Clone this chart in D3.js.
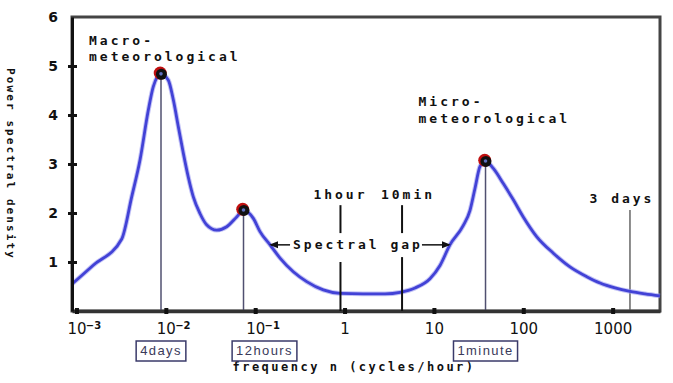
<!DOCTYPE html>
<html>
<head>
<meta charset="utf-8">
<script src="https://cdnjs.cloudflare.com/ajax/libs/d3/7.8.5/d3.min.js"></script>
<style>
  body { margin: 0; background: #fff; }
  svg { display: block; }
  .mono { font-family: "DejaVu Sans Mono", monospace; font-weight: bold; fill: #111; letter-spacing: 3px; font-size: 13px; }
</style>
</head>
<body>
<div id="viz"></div>
<script>
// spectrum: frequency (cycles/hour) and power spectral density
var freq = [0.000891, 0.00153, 0.00321, 0.00415, 0.00514, 0.00637, 0.00724, 0.00883,
            0.01067, 0.01213, 0.0138, 0.0157, 0.0178, 0.0203, 0.0241, 0.0286, 0.0371,
            0.048, 0.0621, 0.074, 0.0953, 0.1132, 0.1466, 0.1897, 0.267, 0.377, 0.578,
            0.889, 1.61, 2.84, 4.18, 6.14, 9.04, 11.7, 15.1, 21.1, 25.3, 28.8, 32.8, 37.8,
            46.2, 59.8, 77.4, 100, 141, 217, 333, 513, 723, 1064, 1563, 2301, 3388];
var density = [0.55, 0.93, 1.47, 2.33, 3.08, 4.10, 4.58, 4.84,
               4.71, 4.31, 3.76, 3.22, 2.74, 2.33, 1.99, 1.76, 1.65,
               1.72, 1.92, 2.06, 1.89, 1.62, 1.35, 1.08, 0.80, 0.60, 0.43,
               0.36, 0.35, 0.35, 0.38, 0.47, 0.66, 0.93, 1.35, 1.73, 2.05, 2.5, 2.95, 3.06,
               2.91, 2.60, 2.27, 1.92, 1.52, 1.18, 0.90, 0.70, 0.57, 0.47, 0.40, 0.35, 0.31];

var tickFreqs = [1e-3, 1e-2, 1e-1, 1, 10, 100, 1000];
var tickBase = ['10', '10', '10', '1', '10', '100', '1000'];
var tickExp = ['\u22123', '\u22122', '\u22121', '', '', '', ''];
var yTicks = [1, 2, 3, 4, 5, 6];

var peakFreqs = [0.00883, 0.074, 37.8];
var peakValues = [4.84, 2.06, 3.06];
var periodLabels = ['4days', '12hours', '1minute'];

var gapFreqs = [0.9, 4.4];
var gapLabels = ['1hour', '10min'];
var arrowFreqs = [0.1466, 15.1];
var threeDaysFreq = 1563;

var width = 673,
    height = 383,
    plotLeft = 72,
    plotRight = 660,
    plotTop = 17,
    plotBottom = 311;

var x = d3.scaleLog()
  .domain([Math.pow(10, -3.05), Math.pow(10, 3.53)])
  .range([plotLeft, plotRight]);

var y = d3.scaleLinear()
  .domain([0, 6])
  .range([plotBottom, plotTop]);

var svg = d3.select('#viz').append('svg')
  .attr('width', width)
  .attr('height', height);

// frame
svg.append('rect')
  .attr('x', plotLeft).attr('y', plotTop)
  .attr('width', plotRight - plotLeft).attr('height', plotBottom - plotTop)
  .attr('fill', 'none')
  .attr('stroke', '#444')
  .attr('stroke-width', 3);

// vertical markers under the peaks
svg.selectAll('.peakline').data(peakFreqs)
  .enter().append('line')
    .attr('x1', function(d) { return x(d); })
    .attr('x2', function(d) { return x(d); })
    .attr('y1', function(d, i) { return y(peakValues[i]); })
    .attr('y2', plotBottom)
    .attr('stroke', '#505070')
    .attr('stroke-width', 1.5);

svg.append('line')
  .attr('x1', x(threeDaysFreq)).attr('x2', x(threeDaysFreq))
  .attr('y1', y(2.06)).attr('y2', plotBottom)
  .attr('stroke', '#666').attr('stroke-width', 1.5);

// spectrum curve
var line = d3.line()
  .x(function(d, i) { return x(freq[i]); })
  .y(function(d) { return y(d); })
  .curve(d3.curveMonotoneX);

svg.append('path')
  .attr('d', line(density))
  .attr('fill', 'none')
  .attr('stroke', '#9a9af0')
  .attr('stroke-width', 4.8)
  .attr('opacity', 0.6);

svg.append('path')
  .attr('d', line(density))
  .attr('fill', 'none')
  .attr('stroke', '#4242d6')
  .attr('stroke-width', 2.8)
  .attr('stroke-linejoin', 'round');

// peak circles
var peaks = svg.selectAll('.peak').data(peakFreqs)
  .enter().append('g')
    .attr('transform', function(d, i) { return 'translate(' + x(d) + ',' + y(peakValues[i]) + ')'; });
peaks.append('circle').attr('r', 6.5).attr('cx', -0.8).attr('cy', -0.8).attr('fill', '#c01010');
peaks.append('circle').attr('r', 5.5).attr('cx', 0.4).attr('cy', 0.4).attr('fill', '#111');
peaks.append('circle').attr('r', 1.8).attr('fill', '#6070c0');

// axes
var xAxis = svg.append('g')
  .attr('transform', 'translate(0,' + plotBottom + ')')
  .call(d3.axisBottom(x).tickValues(tickFreqs).tickFormat('').tickSizeInner(6).tickSizeOuter(0));
xAxis.select('.domain').attr('stroke', '#333').attr('stroke-width', 3.5);
xAxis.selectAll('.tick line').attr('y1', -3).attr('y2', 3).attr('stroke', '#111').attr('stroke-width', 4);
xAxis.selectAll('.tick text').remove();
xAxis.selectAll('.tick').each(function(d, i) {
  var g = d3.select(this);
  var t = g.append('text')
    .attr('y', 23)
    .attr('text-anchor', 'middle')
    .attr('fill', '#111')
    .style('font-family', '"DejaVu Sans", sans-serif')
    .style('font-size', '15px')
    .text(tickBase[i]);
  if (tickExp[i]) {
    var w = t.node().getComputedTextLength();
    g.append('text')
      .attr('x', w / 2 + 7)
      .attr('y', 18)
      .attr('fill', '#111')
      .style('font-family', '"DejaVu Sans", sans-serif')
      .style('font-weight', 'bold')
      .style('font-size', '10px')
      .text(tickExp[i]);
  }
});

var yAxis = svg.append('g')
  .attr('transform', 'translate(' + plotLeft + ',0)')
  .call(d3.axisLeft(y).tickValues(yTicks).tickSizeInner(4).tickSizeOuter(0).tickFormat(d3.format('d')));
yAxis.select('.domain').attr('stroke', '#111').attr('stroke-width', 3);
yAxis.selectAll('.tick line')
  .attr('x1', -4).attr('x2', function(d) { return d === 6 ? -4 : 5; })
  .attr('stroke', '#111').attr('stroke-width', 3);
yAxis.selectAll('.tick text')
  .attr('x', -14)
  .attr('fill', '#111')
  .style('font-family', '"DejaVu Sans", sans-serif')
  .style('font-weight', 'bold')
  .style('font-size', '14px');

// axis titles
svg.append('text')
  .attr('class', 'mono')
  .attr('transform', 'translate(10,164) rotate(90)')
  .attr('text-anchor', 'middle')
  .attr('dominant-baseline', 'central')
  .style('font-size', '11px')
  .style('letter-spacing', '2.1px')
  .text('Power spectral density');

svg.append('text')
  .attr('class', 'mono')
  .attr('x', 354).attr('y', 371)
  .attr('text-anchor', 'middle')
  .style('font-size', '12px')
  .style('letter-spacing', '2.5px')
  .text('frequency n (cycles/hour)');

// period boxes under the axis
var boxOffset = { '12hours': 21 };
var boxes = svg.selectAll('.box').data(periodLabels)
  .enter().append('g')
    .attr('transform', function(d, i) {
      return 'translate(' + (x(peakFreqs[i]) + (boxOffset[d] || 0)) + ',0)';
    });
boxes.append('text')
  .attr('y', 355)
  .attr('text-anchor', 'middle')
  .attr('fill', '#3a3a5a')
  .style('font-family', '"Liberation Sans", Arial, sans-serif')
  .style('font-size', '13px')
  .style('letter-spacing', '1.4px')
  .text(function(d) { return d; });
boxes.each(function() {
  var g = d3.select(this);
  var w = g.select('text').node().getComputedTextLength();
  g.insert('rect', 'text')
    .attr('x', -w / 2 - 4)
    .attr('y', 341)
    .attr('width', w + 8)
    .attr('height', 20)
    .attr('fill', 'none')
    .attr('stroke', '#3a3a6a')
    .attr('stroke-width', 1.5);
});

// annotations
svg.append('text').attr('class', 'mono').attr('x', x(peakFreqs[0]) - 72).attr('y', 45).text('Macro-');
svg.append('text').attr('class', 'mono').attr('x', x(peakFreqs[0]) - 72).attr('y', 61).text('meteorological');
svg.append('text').attr('class', 'mono').attr('x', x(peakFreqs[2]) - 67).attr('y', 106).text('Micro-');
svg.append('text').attr('class', 'mono').attr('x', x(peakFreqs[2]) - 67).attr('y', 123).text('meteorological');

svg.append('text').attr('class', 'mono')
  .attr('x', x(threeDaysFreq) - 8).attr('y', 203)
  .attr('text-anchor', 'middle')
  .text('3 days');

svg.selectAll('.gaplabel').data(gapFreqs)
  .enter().append('text')
    .attr('class', 'mono')
    .attr('x', function(d, i) { return x(d) + (i === 0 ? 0 : 6); })
    .attr('y', 199)
    .attr('text-anchor', 'middle')
    .text(function(d, i) { return gapLabels[i]; });

svg.selectAll('.gapup').data(gapFreqs)
  .enter().append('line')
    .attr('x1', function(d) { return x(d); })
    .attr('x2', function(d) { return x(d); })
    .attr('y1', y(2.16)).attr('y2', y(1.59))
    .attr('stroke', '#111').attr('stroke-width', 2);

svg.selectAll('.gapdown').data(gapFreqs)
  .enter().append('line')
    .attr('x1', function(d) { return x(d); })
    .attr('x2', function(d) { return x(d); })
    .attr('y1', function(d, i) { return y(i === 0 ? 1.0 : 1.1); })
    .attr('y2', plotBottom)
    .attr('stroke', '#111').attr('stroke-width', 2);

svg.append('defs').append('marker')
  .attr('id', 'arrow')
  .attr('viewBox', '0 0 10 10')
  .attr('refX', 8).attr('refY', 5)
  .attr('markerWidth', 6).attr('markerHeight', 6)
  .attr('orient', 'auto')
  .append('path')
    .attr('d', 'M0,1L10,5L0,9z')
    .attr('fill', '#111');

var gapText = svg.append('text')
  .attr('class', 'mono')
  .attr('x', x(arrowFreqs[0]) + 23)
  .attr('y', 249)
  .text('Spectral gap');
var gapLen = gapText.node().getComputedTextLength();

svg.append('line')
  .attr('x1', x(arrowFreqs[0]) + 20).attr('x2', x(arrowFreqs[0]) + 1)
  .attr('y1', y(1.35)).attr('y2', y(1.35))
  .attr('stroke', '#111').attr('stroke-width', 1.5)
  .attr('marker-end', 'url(#arrow)');

svg.append('line')
  .attr('x1', x(arrowFreqs[0]) + 23 + gapLen - 1).attr('x2', x(arrowFreqs[1]) - 1)
  .attr('y1', y(1.35)).attr('y2', y(1.35))
  .attr('stroke', '#111').attr('stroke-width', 1.5)
  .attr('marker-end', 'url(#arrow)');
</script>
</body>
</html>
